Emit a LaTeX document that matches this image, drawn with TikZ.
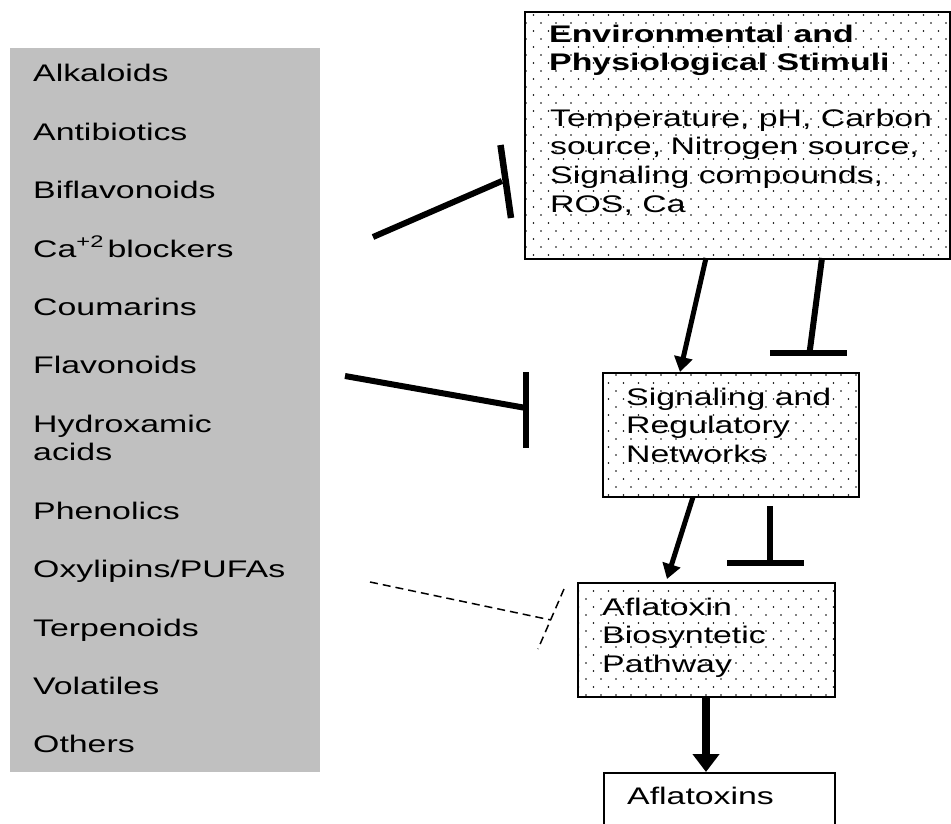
\documentclass[tikz,border=0pt]{standalone}
\usepackage{fontspec}
\setmainfont{Liberation Sans}[FakeStretch=1.41]
\usetikzlibrary{arrows.meta,patterns}
\definecolor{panelgray}{HTML}{C0C0C0}
\pgfdeclarepatternformonly{sparsedots}{\pgfqpoint{-1pt}{-1pt}}{\pgfqpoint{16pt}{17pt}}{\pgfqpoint{15pt}{16pt}}{%
  \pgfpathcircle{\pgfqpoint{1pt}{1pt}}{0.9pt}%
  \pgfpathcircle{\pgfqpoint{8.5pt}{9pt}}{0.9pt}%
  \pgfusepath{fill}}
\begin{document}
\begin{tikzpicture}[x=1pt,y=-1pt,
  txt/.style={anchor=base west,inner sep=0pt,font=\fontsize{24}{28.5}\selectfont},
  dotbox/.style={draw,line width=2pt,pattern=sparsedots,anchor=north west,inner sep=0pt},
  plainbox/.style={draw,line width=2pt,fill=white,anchor=north west,inner sep=0pt},
  act/.style={line width=5pt,-{Triangle[length=15pt,width=18pt]}},
  bigact/.style={line width=8pt,-{Triangle[length=18pt,width=26pt]}},
  inh/.style={line width=6pt},
  inhbar/.style={line width=6.5pt},
  dashinh/.style={line width=1.5pt,dash pattern=on 8pt off 5pt}]
\useasboundingbox (0,0) rectangle (951,824);

% left panel
\node[fill=panelgray,anchor=north west,inner sep=0pt,minimum width=310pt,minimum height=724pt] (panel) at (10,48) {};
\foreach \yy/\txt [count=\i] in {82/Alkaloids,140.5/Antibiotics,198.8/Biflavonoids,
   257/{Ca\textsuperscript{+2}\hspace{0.15em}blockers},315.3/Coumarins,373.5/Flavonoids,432/Hydroxamic,460.5/acids,
   519/Phenolics,577.3/{Oxylipins/PUFAs},636/Terpenoids,694.3/Volatiles,752.6/Others}
  \node[txt] (left\i) at (33,\yy) {\txt};

% boxes
\node[dotbox,minimum width=425pt,minimum height=247pt] (env) at (524,11) {};
\node[dotbox,minimum width=256pt,minimum height=124pt] (sig) at (602,372) {};
\node[dotbox,minimum width=257pt,minimum height=114pt] (afl) at (577,582) {};
\node[plainbox,minimum width=231pt,minimum height=56pt] (tox) at (603,772) {};

% box texts
\node[txt,font=\fontsize{24}{28.5}\selectfont\bfseries] (env1) at (549,43) {Environmental and};
\node[txt,font=\fontsize{24}{28.5}\selectfont\bfseries] (env2) at (549,71) {Physiological Stimuli};
\node[txt] (env3) at (550,127) {Temperature, pH, Carbon};
\node[txt] (env4) at (550,155) {source, Nitrogen source,};
\node[txt] (env5) at (550,183.5) {Signaling compounds,};
\node[txt] (env6) at (550,212) {ROS, Ca};
\node[txt] (sig1) at (626,405) {Signaling and};
\node[txt] (sig2) at (626,433.5) {Regulatory};
\node[txt] (sig3) at (626,462) {Networks};
\node[txt] (afl1) at (602,615) {Aflatoxin};
\node[txt] (afl2) at (602,643.5) {Biosyntetic};
\node[txt] (afl3) at (602,672) {Pathway};
\node[txt] (tox1) at (627,804) {Aflatoxins};

% connector end points
\coordinate (e1) at (706,258);   \coordinate (s1) at (680,372);
\coordinate (e2) at (822,258);   \coordinate (s2) at (809.5,353);
\coordinate (s2a) at (770,353);  \coordinate (s2b) at (847,353);
\coordinate (s3) at (693,497);   \coordinate (a1) at (667,579);
\coordinate (s4) at (770,506);   \coordinate (a2) at (770,563);
\coordinate (a2a) at (727,563);  \coordinate (a2b) at (804,563);
\coordinate (a3) at (706,697);   \coordinate (t1) at (706,772);
\coordinate (p1) at (373,237);   \coordinate (q1) at (502,181);
\coordinate (q1a) at (500.5,145); \coordinate (q1b) at (511,218);
\coordinate (p2) at (345,376);   \coordinate (q2) at (526,408);
\coordinate (q2a) at (526,372);  \coordinate (q2b) at (526,448);
\coordinate (p3) at (370,582);   \coordinate (q3) at (551,620);
\coordinate (q3a) at (564,589);  \coordinate (q3b) at (538,649);

% connectors
\draw[act] (e1) -- (s1);
\draw[inh] (e2) -- (s2);
\draw[inhbar] (s2a) -- (s2b);
\draw[act] (s3) -- (a1);
\draw[inh] (s4) -- (a2);
\draw[inhbar] (a2a) -- (a2b);
\draw[bigact] (a3) -- (t1);
\draw[inh] (p1) -- (q1);
\draw[inhbar] (q1a) -- (q1b);
\draw[inh] (p2) -- (q2);
\draw[inhbar] (q2a) -- (q2b);
\draw[dashinh] (p3) -- (q3);
\draw[dashinh] (q3a) -- (q3b);
\end{tikzpicture}
\end{document}
